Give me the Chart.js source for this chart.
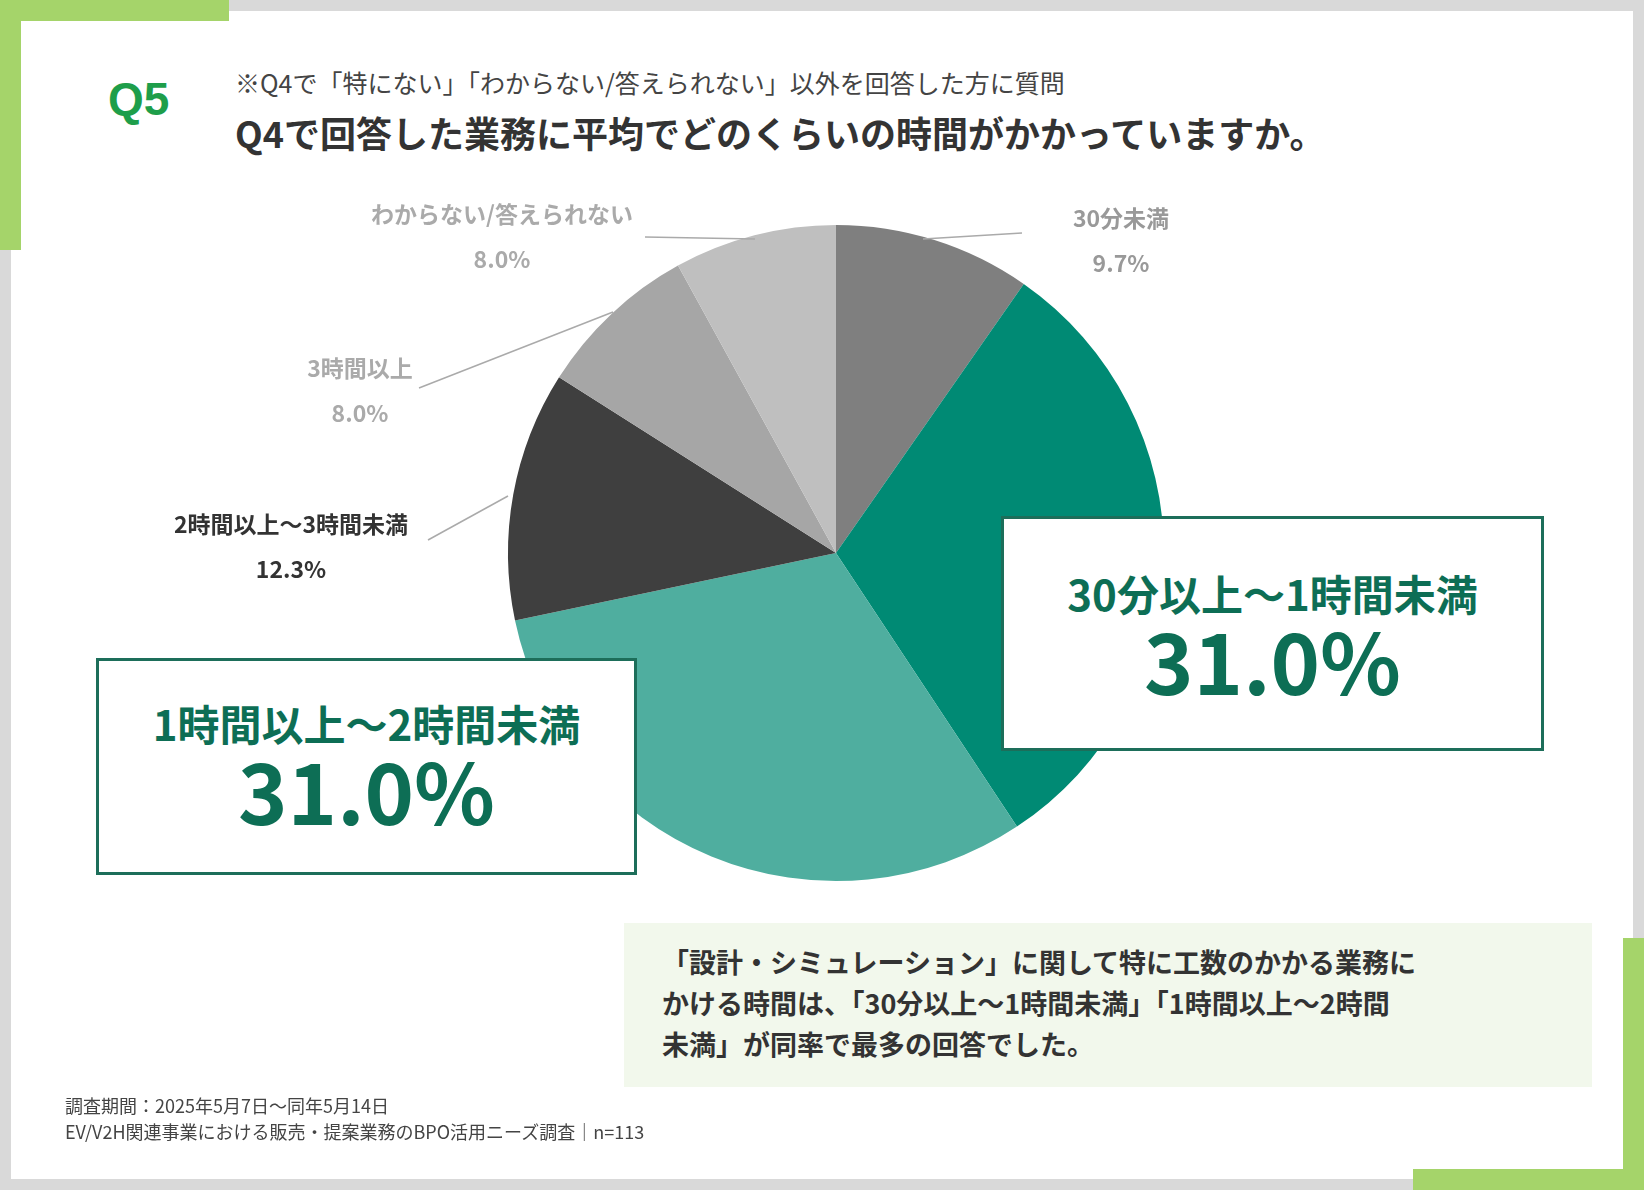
<!DOCTYPE html>
<html><head><meta charset="utf-8">
<script src="https://cdn.jsdelivr.net/npm/chart.js@4"></script>
<style>
body{margin:0;width:1644px;height:1190px;position:relative;overflow:hidden;background:#fff;font-family:"Noto Sans CJK JP","Noto Sans",sans-serif;}
.frame{position:absolute;left:0;top:0;width:1644px;height:1190px;box-sizing:border-box;border:11px solid #d9d9d9;}
.g{position:absolute;background:#a5d46a;}
.abs{position:absolute;white-space:nowrap;}
.lbl{position:absolute;transform:translateX(-50%);font-weight:bold;font-size:23px;white-space:nowrap;}
.box{position:absolute;box-sizing:border-box;border:3px solid #1d6e5a;background:#fff;color:#0d6e55;text-align:center;font-weight:bold;}
.box .c{font-size:42px;line-height:48px;}
.box .p{font-size:84px;line-height:84px;}
</style></head><body>
<div class="frame"></div>
<div class="g" style="left:0;top:0;width:229px;height:21px"></div>
<div class="g" style="left:0;top:0;width:21px;height:250px"></div>
<div class="g" style="left:1623px;top:938px;width:21px;height:252px"></div>
<div class="g" style="left:1413px;top:1169px;width:231px;height:21px"></div>

<div class="abs" style="left:108px;top:72px;font-size:46px;font-weight:bold;color:#1e9e4a;font-family:'Liberation Sans',sans-serif">Q5</div>
<div class="abs" style="left:235px;top:64px;font-size:25px;color:#444">※Q4で「特にない」「わからない/答えられない」以外を回答した方に質問</div>
<div class="abs" style="left:235px;top:106px;font-size:36px;font-weight:bold;color:#333">Q4で回答した業務に平均でどのくらいの時間がかかっていますか。</div>

<canvas id="pie" width="680" height="680" style="position:absolute;left:496px;top:213px"></canvas>
<canvas id="lines" width="1644" height="1190" style="position:absolute;left:0;top:0"></canvas>
<div id="labels"></div>

<div class="box" style="left:1001px;top:516px;width:543px;height:235px;padding-top:50px"><div class="c" id="b1c"></div><div class="p" id="b1p"></div></div>
<div class="box" style="left:96px;top:658px;width:541px;height:217px;padding-top:38px"><div class="c" id="b2c"></div><div class="p" id="b2p"></div></div>

<div class="abs" style="left:624px;top:923px;width:968px;height:164px;background:#f2f8ec;box-sizing:border-box;padding:18px 0 0 38px;font-size:27px;font-weight:bold;line-height:41px;color:#333;white-space:normal">「設計・シミュレーション」に関して特に工数のかかる業務に<br>かける時間は、「30分以上～1時間未満」「1時間以上～2時間<br>未満」が同率で最多の回答でした。</div>

<div class="abs" style="left:65px;top:1092px;font-size:18px;color:#444;line-height:26px">調査期間：2025年5月7日～同年5月14日<br>EV/V2H関連事業における販売・提案業務のBPO活用ニーズ調査｜n=113</div>

<script>
const categories = ["30分未満", "30分以上～1時間未満", "1時間以上～2時間未満", "2時間以上～3時間未満", "3時間以上", "わからない/答えられない"];
const values = [9.7, 31.0, 31.0, 12.3, 8.0, 8.0];
const sliceColors = ["#7f7f7f", "#008a74", "#4fae9f", "#3f3f3f", "#a6a6a6", "#bfbfbf"];

new Chart(document.getElementById("pie"), {
  type: "pie",
  data: { labels: categories, datasets: [{ data: values, backgroundColor: sliceColors, borderWidth: 0 }] },
  options: {
    responsive: false, devicePixelRatio: 1, animation: false,
    layout: { padding: 12 },
    plugins: { legend: { display: false }, tooltip: { enabled: false } }
  }
});

// small outside labels: [index, x, y, color]
const outside = [
  [0, 1121, 200, "#999"],
  [5, 502, 196, "#aaa"],
  [4, 360, 350, "#aaa"],
  [3, 291, 506, "#333"]
];
const lab = document.getElementById("labels");
outside.forEach(([i, x, y, col]) => {
  lab.innerHTML += `<div class="lbl" style="left:${x}px;top:${y}px;color:${col}">${categories[i]}</div>` +
    `<div class="lbl" style="left:${x}px;top:${y + 45}px;color:${col}">${values[i].toFixed(1)}%</div>`;
});
document.getElementById("b1c").innerText = categories[1];
document.getElementById("b1p").innerText = values[1].toFixed(1) + "%";
document.getElementById("b2c").innerText = categories[2];
document.getElementById("b2p").innerText = values[2].toFixed(1) + "%";

// leader lines
const ctx = document.getElementById("lines").getContext("2d");
ctx.strokeStyle = "#aaa"; ctx.lineWidth = 1.5;
[[923, 239, 1022, 233], [645, 237, 755, 239], [419, 388, 613, 312], [428, 540, 508, 496]].forEach(l => {
  ctx.beginPath(); ctx.moveTo(l[0], l[1]); ctx.lineTo(l[2], l[3]); ctx.stroke();
});
</script>
</body></html>
